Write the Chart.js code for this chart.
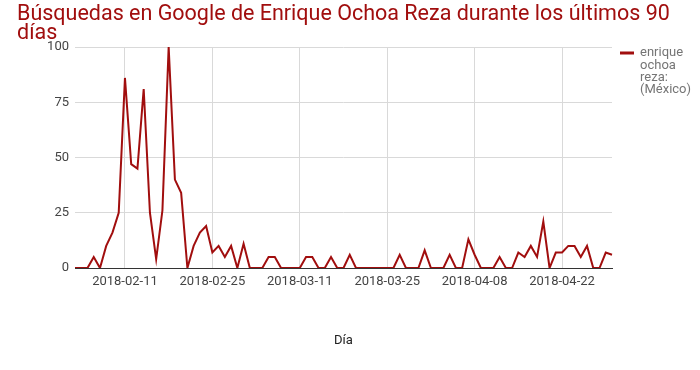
<!DOCTYPE html>
<html>
<head>
<meta charset="utf-8">
<script src="https://cdn.jsdelivr.net/npm/chart.js@4"></script>
<style>
  html, body { margin: 0; padding: 0; background: #fff; }
  #wrap { width: 700px; height: 370px; position: relative; }
</style>
</head>
<body>
<div id="wrap"><canvas id="trendChart"></canvas></div>
<script>
// Búsquedas diarias (Google Trends), 2018-02-03 a 2018-04-30
const startDate = "2018-02-03";
const searches = [
  0, 0, 0, 5, 0, 10, 16, 25, 86, 47,
  45, 81, 25, 4, 26, 100, 40, 34, 0, 10,
  16, 19, 7, 10, 5, 10, 0, 11, 0, 0,
  0, 5, 5, 0, 0, 0, 0, 5, 5, 0,
  0, 5, 0, 0, 6, 0, 0, 0, 0, 0,
  0, 0, 6, 0, 0, 0, 8, 0, 0, 0,
  6, 0, 0, 13, 6, 0, 0, 0, 5, 0,
  0, 7, 5, 10, 5, 21, 0, 7, 7, 10,
  10, 5, 10, 0, 0, 7, 6,
];
const tickLabels = ["2018-02-11", "2018-02-25", "2018-03-11", "2018-03-25", "2018-04-08", "2018-04-22"];
const yTicks = [0, 25, 50, 75, 100];
const titleLines = ["Búsquedas en Google de Enrique Ochoa Reza durante los últimos 90", "días"];
const legendLines = ["enrique", "ochoa", "reza:", "(México)"];

// una etiqueta por día
const days = [];
const d0 = new Date(startDate + "T00:00:00Z");
for (let i = 0; i < searches.length; i++) {
  const d = new Date(d0.getTime() + i * 86400000);
  days.push(d.toISOString().slice(0, 10));
}

const RED = "#a10e0e";

// título en dos líneas (sin ancho máximo) y leyenda a la derecha
const textPlugin = {
  id: "sideText",
  afterDraw(chart) {
    const ctx = chart.ctx;
    ctx.save();
    ctx.fillStyle = RED;
    ctx.font = "21.5px Roboto";
    ctx.textBaseline = "alphabetic";
    titleLines.forEach((t, i) => {
      ctx.fillText(t, 17, 20 + i * 19);
    });

    ctx.strokeStyle = RED;
    ctx.lineWidth = 3;
    ctx.beginPath();
    ctx.moveTo(620, 53);
    ctx.lineTo(634, 53);
    ctx.stroke();
    ctx.fillStyle = "#757575";
    ctx.font = "13px Roboto";
    ctx.textBaseline = "middle";
    legendLines.forEach((t, i) => {
      ctx.fillText(t, 640, 53 + i * 12.3);
    });
    ctx.restore();
  },
};

const ctx = document.getElementById("trendChart").getContext("2d");
new Chart(ctx, {
  type: "line",
  data: {
    labels: days,
    datasets: [
      {
        label: legendLines.join(" "),
        data: searches,
        borderColor: RED,
        backgroundColor: RED,
        borderWidth: 2,
        pointRadius: 0,
        tension: 0,
      },
    ],
  },
  options: {
    responsive: true,
    maintainAspectRatio: false,
    animation: false,
    layout: {
      padding: { left: 0, right: 88, top: 47, bottom: 0 },
    },
    plugins: {
      legend: { display: false },
      tooltip: { enabled: false },
      title: { display: false },
    },
    scales: {
      x: {
        offset: false,
        afterFit: (scale) => {
          scale.height = 102;
        },
        grid: {
          drawTicks: false,
          color: (c) => (c.tick && tickLabels.includes(days[c.index]) ? "#d9d9d9" : "rgba(0,0,0,0)"),
        },
        border: { display: true, color: "#333", width: 1 },
        ticks: {
          autoSkip: false,
          maxRotation: 0,
          padding: 6,
          color: "#444",
          font: { family: "Roboto", size: 13 },
          callback: (v, i) => (tickLabels.includes(days[i]) ? days[i] : ""),
        },
        title: {
          display: true,
          text: "Día",
          color: "#222",
          font: { family: "Roboto", size: 13 },
          padding: { top: 0, bottom: 21 },
        },
      },
      y: {
        min: 0,
        max: 100,
        afterFit: (scale) => {
          scale.width = 75;
        },
        afterBuildTicks: (scale) => {
          scale.ticks = yTicks.map((v) => ({ value: v }));
        },
        grid: {
          drawTicks: false,
          color: (c) => (c.tick && c.tick.value === 0 ? "#333" : "#d9d9d9"),
        },
        border: { display: false },
        ticks: {
          padding: 6,
          color: "#444",
          font: { family: "Roboto", size: 13 },
        },
      },
    },
  },
  plugins: [textPlugin],
});
</script>
</body>
</html>
